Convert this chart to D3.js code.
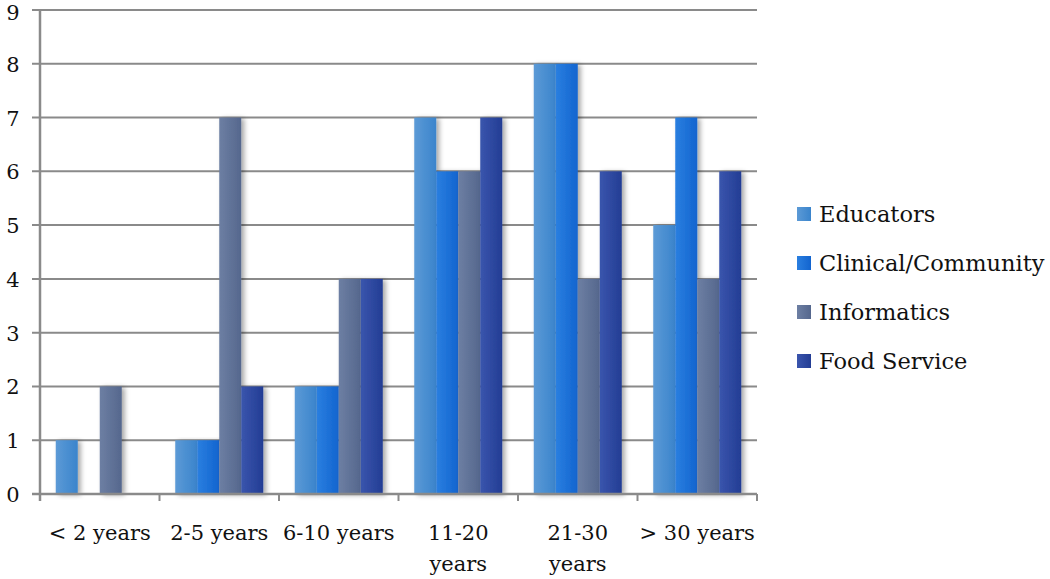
<!DOCTYPE html>
<html><head><meta charset="utf-8">
<script src="https://cdn.jsdelivr.net/npm/d3@7"></script>
<style>body{margin:0;background:#fff}svg{display:block}</style>
</head><body>
<svg id="c" width="1050" height="579"></svg>
<script>
const categories = [["< 2 years"],["2-5 years"],["6-10 years"],["11-20","years"],["21-30","years"],["> 30 years"]];
const series = ["Educators","Clinical/Community","Informatics","Food Service"];
const educators = [1,1,2,7,8,5];
const clinical = [0,1,2,6,8,7];
const informatics = [2,7,4,6,4,4];
const foodService = [0,2,4,7,6,6];
const yTicks = [0,1,2,3,4,5,6,7,8,9];
const colors = [["#5c9ad6","#3a84cc"],["#2a7fe0","#1264cf"],["#6d7fa3","#55678d"],["#3a55ad","#233d94"]];
const values = [educators, clinical, informatics, foodService];

const svg = d3.select("#c");
const fontFam = "'DejaVu Serif', serif";
const x0 = d3.scaleBand().domain(d3.range(categories.length)).range([40,757]).paddingInner(0).paddingOuter(0);
const x1 = d3.scaleBand().domain(d3.range(series.length)).range([0,x0.bandwidth()]).paddingInner(0).paddingOuter(0.716);
const y = d3.scaleLinear().domain([0,9]).range([494,10]);

const defs = svg.append("defs");
colors.forEach((c,i)=>{
  const g = defs.append("linearGradient").attr("id","g"+i).attr("x1","0").attr("x2","1").attr("y1","0").attr("y2","0");
  g.append("stop").attr("offset","0").attr("stop-color",c[0]);
  g.append("stop").attr("offset","1").attr("stop-color",c[1]);
});
const f = defs.append("filter").attr("id","sh").attr("x","-20%").attr("y","-5%").attr("width","160%").attr("height","115%");
f.append("feDropShadow").attr("dx",3).attr("dy",1).attr("stdDeviation",2.5).attr("flood-color","#000").attr("flood-opacity",0.35);

// gridlines
svg.append("g").selectAll("line").data(yTicks).join("line")
  .attr("x1",32).attr("x2",757).attr("y1",d=>y(d)).attr("y2",d=>y(d))
  .attr("stroke","#8a8a8a").attr("stroke-width",2);
// y labels
svg.append("g").selectAll("text").data(yTicks).join("text")
  .attr("x",13).attr("y",d=>Math.max(y(d)+8,20)).attr("text-anchor","middle")
  .attr("font-family",fontFam).attr("font-size",21).attr("fill","#111").text(d=>d);

// bars
const groups = svg.append("g").selectAll("g").data(categories).join("g")
  .attr("transform",(d,i)=>`translate(${x0(i)},0)`);
groups.selectAll("rect").data((d,i)=>series.map((s,j)=>({j,v:values[j][i]}))).join("rect")
  .filter(d=>d.v>0)
  .attr("x",d=>x1(d.j)).attr("width",x1.bandwidth())
  .attr("y",d=>y(d.v)).attr("height",d=>y(0)-y(d.v))
  .attr("fill",d=>`url(#g${d.j})`).attr("filter","url(#sh)");

// axes lines
svg.append("line").attr("x1",40).attr("x2",40).attr("y1",10).attr("y2",501).attr("stroke","#8a8a8a").attr("stroke-width",2.5);
svg.append("line").attr("x1",32).attr("x2",757).attr("y1",494).attr("y2",494).attr("stroke","#8a8a8a").attr("stroke-width",2.5);
svg.append("g").selectAll("line").data(d3.range(categories.length+1)).join("line")
  .attr("x1",d=>40+d*x0.bandwidth()).attr("x2",d=>40+d*x0.bandwidth())
  .attr("y1",494).attr("y2",501).attr("stroke","#8a8a8a").attr("stroke-width",2);

// x labels
const xl = svg.append("g").selectAll("text").data(categories).join("text")
  .attr("font-family",fontFam).attr("font-size",21).attr("fill","#111").attr("text-anchor","middle");
xl.each(function(d,i){
  const t = d3.select(this);
  d.forEach((line,k)=>t.append("tspan").attr("x",x0(i)+x0.bandwidth()/2).attr("y",540+k*31).text(line));
});

// legend
const lg = svg.append("g").selectAll("g").data(series).join("g")
  .attr("transform",(d,i)=>`translate(797,${214+i*49})`);
lg.append("rect").attr("x",0).attr("y",-7).attr("width",14).attr("height",14).attr("fill",(d,i)=>`url(#g${i})`);
lg.append("text").attr("x",22).attr("y",8).attr("font-family",fontFam).attr("font-size",22.5).attr("fill","#111").text(d=>d);
</script>
</body></html>
